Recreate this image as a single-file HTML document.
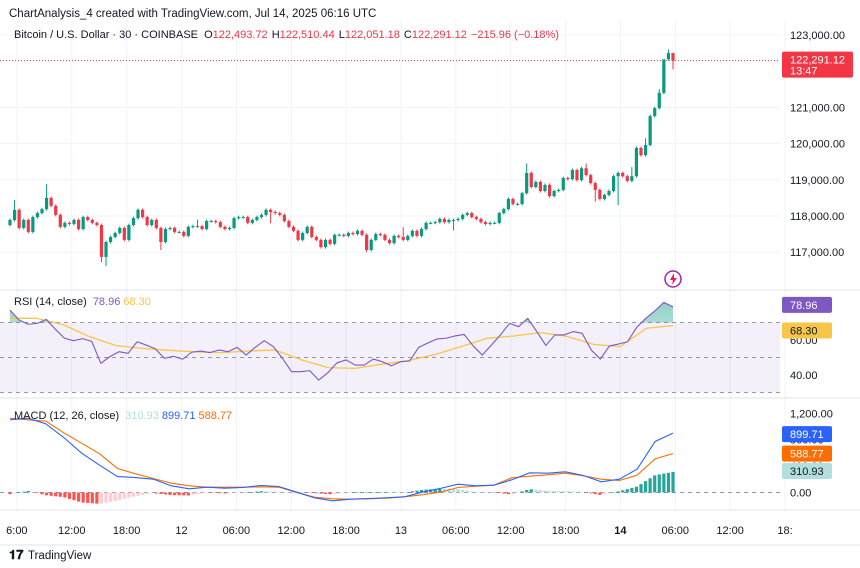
<!DOCTYPE html>
<html><head><meta charset="utf-8"><style>
html,body{margin:0;padding:0;background:#fff;}
svg{display:block;font-family:"Liberation Sans",sans-serif;}
</style></head><body>
<svg id="c" width="860" height="568" viewBox="0 0 860 568">
<defs>
<clipPath id="plotClip"><rect x="0" y="20" width="780" height="490"/></clipPath>
<clipPath id="above70"><rect x="0" y="290" width="780" height="32.5"/></clipPath>
<linearGradient id="gfill" x1="0" y1="0" x2="0" y2="1"><stop offset="0" stop-color="#089981" stop-opacity="0.45"/><stop offset="1" stop-color="#089981" stop-opacity="0.05"/></linearGradient>
</defs>
<text x="9" y="17" font-size="11.5" fill="#131722">ChartAnalysis_4 created with TradingView.com, Jul 14, 2025 06:16 UTC</text>
<g id="grid"></g>
<g id="panes"></g>
<g id="candles" clip-path="url(#plotClip)"></g>
<g id="rsi" clip-path="url(#plotClip)"></g>
<g id="macd" clip-path="url(#plotClip)"></g>
<g id="axes"></g>
<text x="14" y="38" font-size="11" fill="#131722">Bitcoin / U.S. Dollar · 30 · COINBASE <tspan dx="3">O</tspan><tspan fill="#f23645">122,493.72</tspan><tspan dx="4">H</tspan><tspan fill="#f23645">122,510.44</tspan><tspan dx="4">L</tspan><tspan fill="#f23645">122,051.18</tspan><tspan dx="4">C</tspan><tspan fill="#f23645">122,291.12</tspan><tspan dx="4" fill="#f23645">−215.96 (−0.18%)</tspan></text>
<text x="14" y="305" font-size="11" fill="#131722">RSI (14, close) <tspan dx="3" fill="#7e57c2">78.96</tspan><tspan dx="3" fill="#f7c548">68.30</tspan></text>
<text x="14" y="419" font-size="11" fill="#131722">MACD (12, 26, close) <tspan dx="3" fill="#b2dfdb">310.93</tspan><tspan dx="3" fill="#2962ff">899.71</tspan><tspan dx="3" fill="#ff6d00">588.77</tspan></text>
<g><circle cx="673" cy="279" r="8" fill="#fff" stroke="#9c27b0" stroke-width="1.5"/><path d="M674 273 L670 280 L673 280 L672 285 L677 278 L674 278 Z" fill="#e91e63"/></g>
<g><text x="9" y="559" font-size="13" font-weight="bold" fill="#131722">𝟏𝟕</text><text x="28" y="559" font-size="11.5" fill="#131722">TradingView</text></g>
</svg>
<script>
const closes=[117890,118170,117670,117890,117560,117970,118080,118190,118500,118280,118030,117700,117810,117780,117890,117640,117970,117890,117810,117750,116870,117280,117420,117530,117670,117340,117750,117940,118170,117970,117750,117890,117670,117280,117640,117670,117560,117560,117450,117700,117720,117720,117640,117860,117860,117830,117700,117640,117670,
117940,117970,117970,117810,117890,117970,118030,118170,118110,118080,118030,117860,117700,117590,117340,117530,117700,117420,117340,117140,117340,117230,117480,117480,117450,117530,117500,117590,117480,117060,117340,117500,117480,117340,117250,117450,117420,117340,117450,117590,117450,117640,117810,117810,117830,117920,117830,117890,
117890,117920,118030,118080,117970,117920,117830,117780,117810,117810,118080,118190,118470,118330,118330,118630,119190,118800,118940,118690,118860,118550,118690,118720,119050,119020,119270,118990,119320,119130,118910,118720,118470,118580,118690,119100,119190,119100,118970,119100,119880,119680,119960,120760,120980,121400,122330,122500,122291.12];
const firstOpen=117750;
const extraHigh={1:118440,8:118880,41:117900,86:117690,113:119450,126:119450,136:119350,139:120150,142:121500,143:122000,144:122600,145:122510};
const extraLow={20:116730,21:116620,33:117060,57:117800,78:117000,97:117600,128:118400,133:118300,145:122051};
const priceTicks=[117000,118000,119000,120000,121000,123000];
const priceTickLabels=["117,000.00","118,000.00","119,000.00","120,000.00","121,000.00","123,000.00"];
const rsiVals=[77.1,71.4,69,69.5,71.8,66.1,61,59.6,60.8,59.2,46.7,50.5,53.3,52.4,59,57.1,55,49.5,50.7,49,53,53.7,52.8,54.3,53.3,55.8,51.4,55.8,59.6,56.2,49.5,41.9,41.9,42.5,37.1,41.3,46.9,48.6,45.7,45.7,49.1,47.6,45.3,47.6,48,55.8,58.3,60.6,61,62.3,63.2,56.6,51.4,57.1,62.9,69.5,67.6,72.4,64.8,56.9,62.9,62.9,64.8,63.8,54.3,49.1,56.6,57.7,59,67.2,72.4,76.6,81.5,78.96];
const rsiMA=[72.4,72.4,68.8,61.9,56.8,55.2,54.1,53.2,52.8,53.7,54.3,48.6,44.2,43.8,46.1,48.2,51.6,56.2,61,62.3,64.2,62.1,57.5,56.2,66.7,68.3];
const macdLine=[1101,1126,1040,833,596,414,242,227,202,101,56,81,66,76,106,91,5,-81,-126,-101,-91,-81,-66,5,61,126,101,111,192,298,293,313,258,162,202,354,773,899.71];
const signalLine=[1126,1101,1081,904,747,586,364,283,212,141,101,81,81,81,86,81,0,-71,-96,-101,-96,-86,-66,-35,5,76,96,111,222,247,268,293,253,202,182,263,510,588.77];
const timeLabels=["6:00","12:00","18:00","12","06:00","12:00","18:00","13","06:00","12:00","18:00","14","06:00","12:00","18:"];

const NS="http://www.w3.org/2000/svg";
const n=closes.length;
const xOf=i=>10+i*(663/(n-1));
const yP=p=>216-(p-118000)*0.0362;
const yR=v=>340-(v-60)*1.75;
const yM=v=>492.5-v*0.066;
function mk(tag,attrs,parent){const e=document.createElementNS(NS,tag);for(const k in attrs)e.setAttribute(k,attrs[k]);parent.appendChild(e);return e;}
const G=id=>document.getElementById(id);
const grid=G('grid'),panes=G('panes'),cg=G('candles'),rg=G('rsi'),mg=G('macd'),ax=G('axes');

// vertical grid + time labels
timeLabels.forEach((t,m)=>{
  const x=xOf(1.5+12*m);
  const l=mk('line',{x1:x,x2:x,y1:20,y2:510,stroke:'#f0f3fa','stroke-width':1},grid);
  
  
  const tx=mk('text',{x:x,y:534,'font-size':11,fill:'#131722','text-anchor':'middle','font-weight':t==='14'?'bold':'normal'},ax);
  tx.textContent=t;
  
  
});
// horizontal price grid
priceTicks.forEach((p,k)=>{
  const y=yP(p);
  const l=mk('line',{x1:0,x2:780,y1:y,y2:y,stroke:'#f0f3fa'},grid);
  
  
  const tx=mk('text',{x:790,y:y+4,'font-size':11,fill:'#131722'},ax);
  tx.textContent=priceTickLabels[k];
  
  
});
// pane separators
[290,398,510].forEach(y=>{const l=mk('line',{x1:0,x2:860,y1:y,y2:y,stroke:'#e0e3eb'},panes);
  
  });
const l2=mk('line',{x1:0,x2:860,y1:545,y2:545,stroke:'#e0e3eb'},panes);



// candles
for(let i=0;i<n;i++){
  const o=i?closes[i-1]:firstOpen,c=closes[i];
  const hi=extraHigh[i]!==undefined?extraHigh[i]:Math.max(o,c)+40;
  const lo=extraLow[i]!==undefined?extraLow[i]:Math.min(o,c)-40;
  const col=c>=o?'#089981':'#f23645';
  const x=xOf(i);
  const g=mk('g',{},cg);
  
  
  mk('line',{x1:x,x2:x,y1:yP(hi),y2:yP(lo),stroke:col,'stroke-width':1},g);
  const y1=yP(Math.max(o,c)),y2=yP(Math.min(o,c));
  mk('rect',{x:x-1.6,y:y1,width:3.2,height:Math.max(1,y2-y1),fill:col},g);
}
// price line + label
const pl=mk('line',{x1:0,x2:780,y1:yP(122291.12),y2:yP(122291.12),stroke:'#f23645','stroke-dasharray':'1 2'},cg);


const pb=mk('rect',{x:782,y:yP(122291.12)-9,width:71,height:26,fill:'#f23645',rx:2},ax);


let t=mk('text',{x:790,y:yP(122291.12)+3,'font-size':11,fill:'#fff'},ax);t.textContent='122,291.12';
t=mk('text',{x:790,y:yP(122291.12)+14,'font-size':11,fill:'#fff'},ax);t.textContent='13:47';

// RSI pane
const band=mk('rect',{x:0,y:yR(70),width:780,height:yR(30)-yR(70),fill:'#7e57c2','fill-opacity':0.09},rg);


[70,50,30].forEach(v=>{const l=mk('line',{x1:0,x2:780,y1:yR(v),y2:yR(v),stroke:'#9598a1','stroke-dasharray':'4 4'},rg);
  
  });
const rx=j=>xOf(j*(n-1)/(rsiVals.length-1));
const rpts=rsiVals.map((v,j)=>rx(j)+','+yR(v)).join(' ');
const fillPts=rx(0)+','+yR(70)+' '+rpts+' '+rx(rsiVals.length-1)+','+yR(70);
const rf=mk('polygon',{points:fillPts,fill:'url(#gfill)','clip-path':'url(#above70)'},rg);


const maPts=rsiMA.map((v,j)=>xOf(j*(n-1)/(rsiMA.length-1))+','+yR(v)).join(' ');
const mal=mk('polyline',{points:maPts,fill:'none',stroke:'#f7c548','stroke-width':1.3,'stroke-linejoin':'round'},rg);


const rl=mk('polyline',{points:rpts,fill:'none',stroke:'#7e57c2','stroke-width':1.1,'stroke-linejoin':'round'},rg);


[[60,'60.00'],[40,'40.00']].forEach(a=>{const tx=mk('text',{x:790,y:yR(a[0])+4,'font-size':11,fill:'#131722'},ax);tx.textContent=a[1];
  
  });
function badge(y,txt,bg,fg,name){const r=mk('rect',{x:782,y:y-8,width:50,height:16,fill:bg,rx:2},ax);
  
  
  const tx=mk('text',{x:790,y:y+4,'font-size':11,fill:fg},ax);tx.textContent=txt;}
badge(yR(78.96)-2,'78.96','#7e57c2','#fff','rsi-value-label');
badge(yR(68.30)+5,'68.30','#f7c548','#131722','rsi-ma-value-label');

// MACD pane
const z=mk('line',{x1:0,x2:780,y1:yM(0),y2:yM(0),stroke:'#9598a1','stroke-dasharray':'4 4'},mg);


const L=macdLine.length;
const interp=(arr,t)=>{const a=Math.floor(t),b=Math.min(arr.length-1,a+1),f=t-a;return arr[a]*(1-f)+arr[b]*f;};
let prev=null;
for(let i=0;i<n;i++){
  const tt=i*(L-1)/(n-1);
  const h=interp(macdLine,tt)-interp(signalLine,tt);
  let col;
  if(h>=0)col=(prev===null||h>=prev)?'#26a69a':'#b2dfdb';else col=(prev===null||h<=prev)?'#ff5252':'#ffcdd2';
  prev=h;
  const y0=yM(0),y1=yM(h);
  const b=mk('rect',{x:xOf(i)-1.6,y:Math.min(y0,y1),width:3.2,height:Math.max(0.5,Math.abs(y1-y0)),fill:col},mg);
  
  
}
const mx=j=>xOf(j*(n-1)/(L-1));
const sl=mk('polyline',{points:signalLine.map((v,j)=>mx(j)+','+yM(v)).join(' '),fill:'none',stroke:'#ff6d00','stroke-width':1.1},mg);


const ml=mk('polyline',{points:macdLine.map((v,j)=>mx(j)+','+yM(v)).join(' '),fill:'none',stroke:'#2962ff','stroke-width':1.1},mg);


[[1200,'1,200.00'],[800,'800.00'],[400,'400.00'],[0,'0.00']].forEach(a=>{const tx=mk('text',{x:790,y:yM(a[0])+4,'font-size':11,fill:'#131722'},ax);tx.textContent=a[1];
  
  });
badge(yM(899.71)+1,'899.71','#2962ff','#fff','macd-value-label');
badge(yM(588.77),'588.77','#ff6d00','#fff','signal-value-label');
badge(yM(310.93)-1,'310.93','#b2dfdb','#131722','histogram-value-label');
</script>
</body></html>
